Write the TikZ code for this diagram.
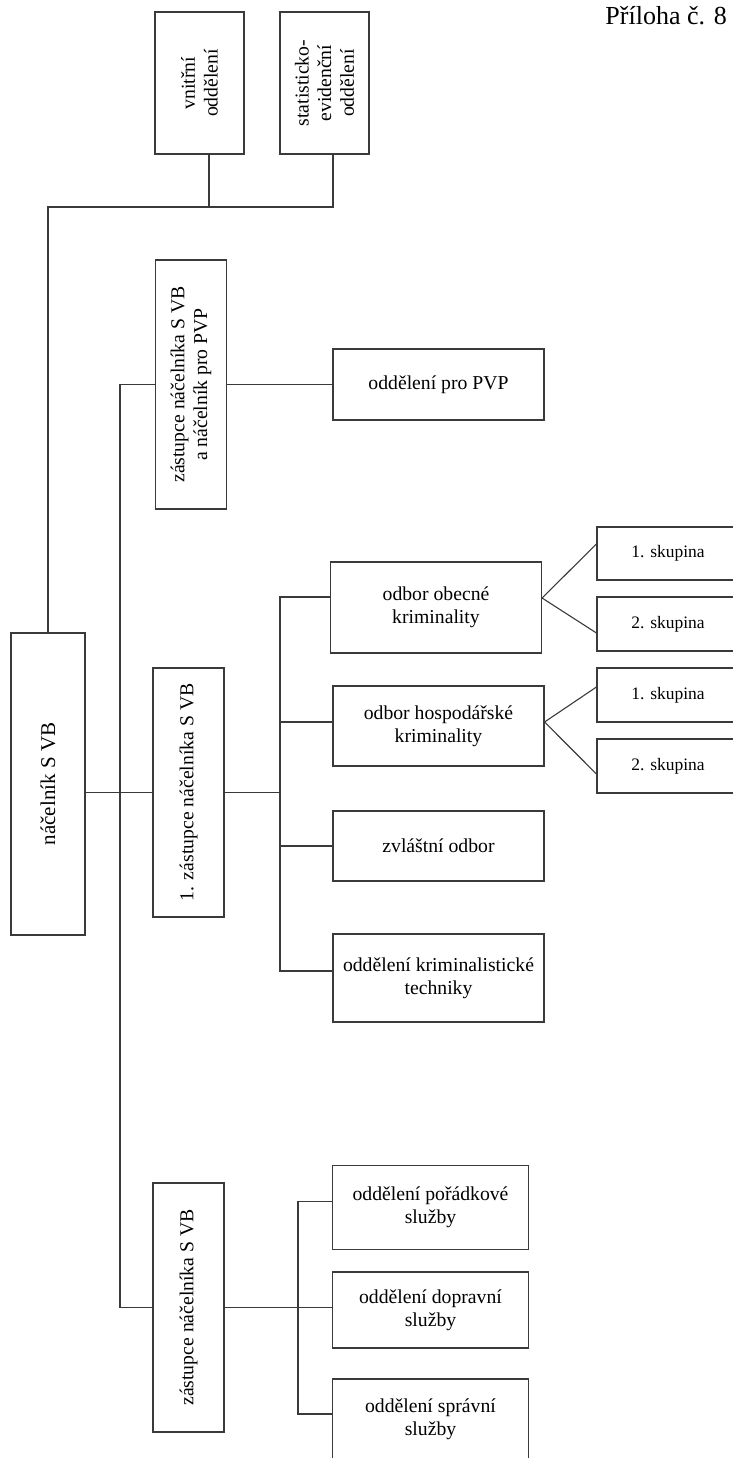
\documentclass[tikz,border=0pt]{standalone}
\usepackage{fontspec}
\setmainfont{Liberation Serif}
\usetikzlibrary{positioning,calc}
\definecolor{orgline}{HTML}{3A3A3A}

\begin{document}
\begin{tikzpicture}[
    x=1pt, y=-1pt,
    box/.style={
      draw=orgline,
      line width=1.1pt,
      align=center,
      inner sep=2pt,
      font=\fontsize{19.7}{22.7}\selectfont
    },
    rbox/.style={box, rotate=90},
    grpbox/.style={box, minimum width=142pt, font=\fontsize{17.5}{20}\selectfont},
    conn/.style={draw=orgline, line width=1.1pt}
  ]
  \useasboundingbox (0,0) rectangle (733,1458);

  \node[anchor=base east, inner sep=0pt, font=\fontsize{26}{30}\selectfont] (title) at (727,25) {Příloha č. 8};

  % top row (rotated boxes: north = left, south = right, west = bottom)
  \node[rbox, minimum width=142pt, minimum height=89pt] (vnitr) at (199.5,83) {vnitřní\\oddělení};
  \node[rbox, minimum width=142pt, minimum height=89pt] (stat) at (324.5,83) {statisticko-\\evidenční\\oddělení};

  % head and deputies
  \node[rbox, minimum width=302pt, minimum height=74pt, font=\fontsize{21}{24}\selectfont] (nacel) at (48,784) {náčelník S VB};
  \node[rbox, minimum width=249pt, minimum height=71pt] (zpvp) at (191,384.5) {zástupce náčelníka S VB\\a náčelník pro PVP};
  \node[rbox, minimum width=249pt, minimum height=71pt] (zast1) at (188.5,792.5) {1. zástupce náčelníka S VB};
  \node[rbox, minimum width=249pt, minimum height=71pt] (zast2) at (188.5,1307.5) {zástupce náčelníka S VB};

  \node[box, minimum width=211pt, minimum height=71pt] (opvp) at (438.5,384.5) {oddělení pro PVP};

  % criminal branch
  \node[box, minimum width=211pt, minimum height=91pt] (obec) at (436,607.5) {odbor obecné\\kriminality};
  \node[box, minimum width=211pt, minimum height=80pt] (hosp) at (438.5,726) {odbor hospodářské\\kriminality};
  \node[box, minimum width=211pt, minimum height=70pt] (zvl) at (438.5,846) {zvláštní odbor};
  \node[box, minimum width=211pt, minimum height=88pt] (tech) at (438.5,978) {oddělení kriminalistické\\techniky};

  \node[grpbox, minimum height=53pt] (obec1) at (668,553.5) {1. skupina};
  \node[grpbox, minimum height=54pt] (obec2) at (668,624) {2. skupina};
  \node[grpbox, minimum height=54pt] (hosp1) at (668,695) {1. skupina};
  \node[grpbox, minimum height=54pt] (hosp2) at (668,766) {2. skupina};

  % service branch
  \node[box, minimum width=196pt, minimum height=83.5pt] (por) at (430.5,1207.5) {oddělení pořádkové\\služby};
  \node[box, minimum width=196pt, minimum height=76pt] (dop) at (430.5,1310) {oddělení dopravní\\služby};
  \node[box, minimum width=196pt, minimum height=81pt] (spr) at (430.5,1419.5) {oddělení správní\\služby};

  \coordinate (topbus) at (48,207);
  \coordinate (mbus) at (120,792.5);
  \coordinate (kbus) at (280,792.5);
  \coordinate (sbus) at (298,1307.5);

  % connectors
  \draw[conn] (nacel.east) -- (topbus) -| ([xshift=8.5pt]stat.west);
  \draw[conn] ([xshift=9.5pt]vnitr.west) -- ([xshift=9.5pt]vnitr.west |- topbus);

  \draw[conn] (zpvp.north) -| (mbus) |- (zast2.north);
  \draw[conn] (nacel.south |- zast1.north) -- (zast1.north);
  \draw[conn] (zpvp.south) -- (opvp.west);

  \draw[conn] (zast1.south) -- (kbus);
  \draw[conn] ([yshift=10.5pt]obec.west) -| (kbus) |- ([yshift=7pt]tech.west);
  \foreach \n/\s in {hosp/4, zvl/0}
    \draw[conn] ([yshift=\s pt]\n.west) -- ++(-53,0);

  \draw[conn] ([yshift=9.5pt]obec1.west) -- ([yshift=9.5pt]obec.east) -- ([yshift=-9pt]obec2.west);
  \draw[conn] ([yshift=8pt]hosp1.west) -- ([yshift=4pt]hosp.east) -- ([yshift=-8pt]hosp2.west);

  \draw[conn] (zast2.south) -- (zast2.south -| dop.west);
  \draw[conn] ([yshift=6pt]por.west) -| (sbus) |- ([yshift=5.5pt]spr.west);

\end{tikzpicture}
\end{document}
